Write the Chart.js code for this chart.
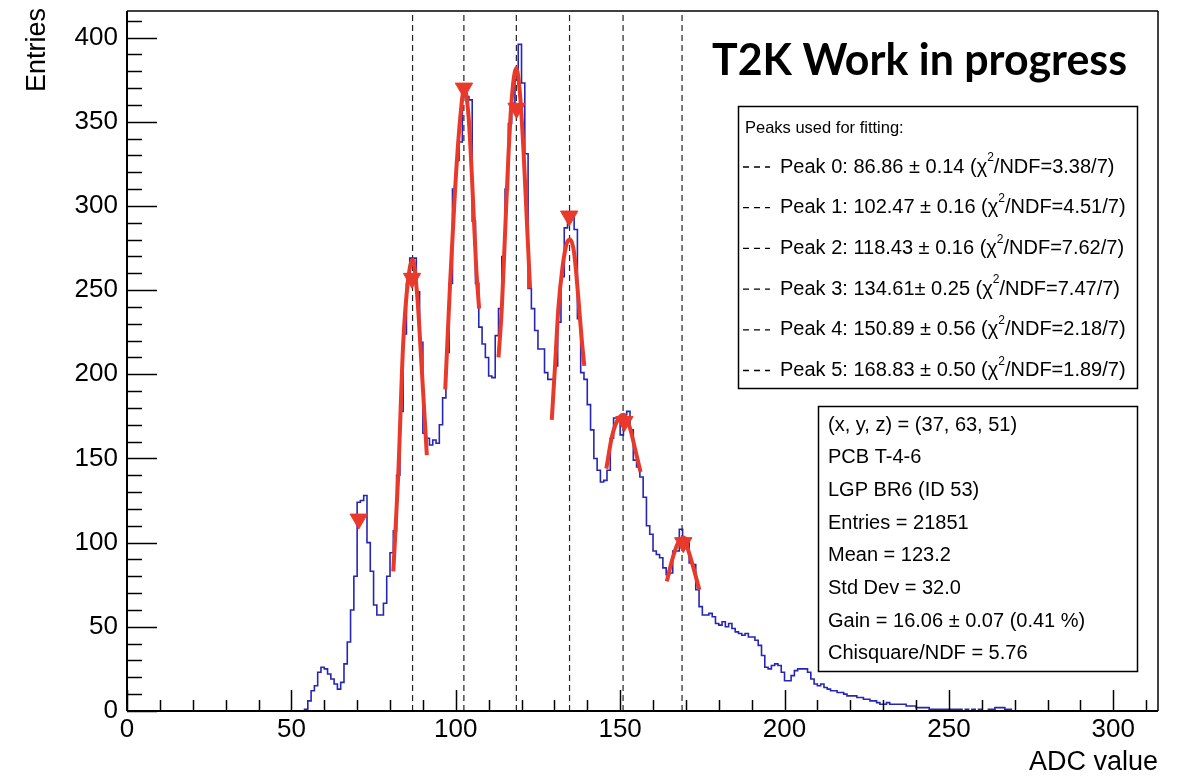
<!DOCTYPE html>
<html>
<head>
<meta charset="utf-8">
<script src="https://cdn.jsdelivr.net/npm/chart.js@4.4.1/dist/chart.umd.min.js"></script>
<style>
  body { margin: 0; background: #fff; }
  #wrap { width: 1178px; height: 776px; }
</style>
</head>
<body>
<div id="wrap"><canvas id="adcChart" width="1178" height="776"></canvas></div>
<script>
// Histogram: entries per 1-ADC bin, starting at firstBin
const firstBin = 53;
const counts = [
    0, 1, 6, 12, 15, 23, 26, 25, 22, 19, 16, 13, 17, 28, 41, 60, 80,          // 53-69
    124, 125, 128, 100, 83, 63, 57, 57, 64, 80,                               // 70-79
    94, 107, 140, 178, 224, 254, 269, 269, 249, 219,                          // 80-89
    165, 162, 158, 161, 159, 170, 186, 213, 254, 310,                         // 90-99
    327, 338, 368, 365, 363, 291, 254, 228, 218, 210,                         // 100-109
    199, 198, 223, 239, 270, 310, 349, 361, 375, 396,                         // 110-119
    373, 331, 251, 239, 226, 215, 215, 201, 197, 197,                         // 120-129
    205, 231, 258, 287, 294, 294, 286, 233, 201, 197,                         // 130-139
    182, 167, 150, 143, 136, 137, 143, 162, 174, 173,                         // 140-149
    164, 176, 178, 167, 149, 145, 139, 127, 110, 105,                         // 150-159
    95, 93, 91, 85, 81, 82, 95, 95, 108, 103,                                 // 160-169
    102, 88, 87, 72, 62, 57, 57, 58, 56, 52,                                  // 170-179
    51, 53, 50, 52, 49, 47, 46, 45, 46, 44,                                   // 180-189
    44, 42, 39, 33, 26, 25, 27, 28, 27, 23,                                   // 190-199
    18, 18, 21, 24, 25, 25, 25, 23, 19, 16,                                   // 200-209
    15, 16, 14, 13, 12, 12, 11, 11, 10, 9,                                    // 210-219
    9, 9, 8, 8, 7, 7, 6, 6, 5, 4,                                             // 220-229
    4, 5, 4, 4, 4, 4, 4, 3, 3, 3,                                             // 230-239
    2, 2, 2, 2, 1, 1, 1, 1, 1, 1,                                             // 240-249
    1, 1, 1, 1, 0, 1, 0, 1, 0, 1,                                             // 250-259
    0, 0, 1, 1, 2, 2, 2, 1, 1, 0                                              // 260-269
];

const xMax = 313.6;
const yMax = 415.8;

// Fitted peak positions (dashed lines)
const peakPos = [86.86, 102.47, 118.43, 134.61, 150.89, 168.83];

// Peak-finder markers
const markerX = [70.5, 86.7, 102.5, 118.5, 134.5, 151.3, 169.2];
const markerY = [114, 257, 370, 358, 294, 172, 100];

// Gaussian fit curves
const fit0X = [81, 82.5, 84, 85.5, 86.9, 88.3, 89.6, 91.2];
const fit0Y = [83, 140, 218, 256, 268, 246, 205, 152];
const fit1X = [96.8, 98.3, 99.8, 101.3, 102.6, 103.9, 104.9, 106.2, 107.1];
const fit1Y = [191, 255, 310, 351, 370, 353, 318, 264, 239];
const fit2X = [113, 114, 115, 116, 117, 118.4, 119.6, 120.6, 121.6, 122.6];
const fit2Y = [210, 239, 284, 329, 363, 382, 365, 333, 292, 251];
const fit3X = [129.2, 130.2, 131.2, 132.5, 133.8, 134.8, 136, 137.3, 138.3, 139.1];
const fit3Y = [173, 205, 239, 264, 278, 280, 272, 245, 221, 205];
const fit4X = [145.8, 147.4, 149, 151, 153, 154.5, 156.2];
const fit4Y = [144, 162, 172, 176, 168, 156, 142];
const fit5X = [164.2, 165.7, 167.4, 169.3, 170.8, 172.3, 174.1];
const fit5Y = [77, 89, 99, 103, 95, 85, 72];

// Legend texts
const peakLabels = [
    ['Peak 0: 86.86 \u00b1 0.14 (\u03c7', '/NDF=3.38/7)'],
    ['Peak 1: 102.47 \u00b1 0.16 (\u03c7', '/NDF=4.51/7)'],
    ['Peak 2: 118.43 \u00b1 0.16 (\u03c7', '/NDF=7.62/7)'],
    ['Peak 3: 134.61\u00b1 0.25 (\u03c7', '/NDF=7.47/7)'],
    ['Peak 4: 150.89 \u00b1 0.56 (\u03c7', '/NDF=2.18/7)'],
    ['Peak 5: 168.83 \u00b1 0.50 (\u03c7', '/NDF=1.89/7)']
];
const statLines = [
    '(x, y, z) = (37, 63, 51)',
    'PCB T-4-6',
    'LGP BR6 (ID 53)',
    'Entries = 21851',
    'Mean = 123.2',
    'Std Dev = 32.0',
    'Gain = 16.06 \u00b1 0.07 (0.41 %)',
    'Chisquare/NDF = 5.76'
];

const FONT = "'Liberation Sans', Arial, sans-serif";
const RED = '#e8392b';

// build histogram steps
const histPoints = [{ x: 0, y: 0 }];
counts.forEach((c, i) => histPoints.push({ x: firstBin + i, y: c }));
histPoints.push({ x: firstBin + counts.length, y: 0 });
histPoints.push({ x: xMax, y: 0 });

function pairs(xs, ys) {
    return xs.map((x, i) => ({ x: x, y: ys[i] }));
}

const datasets = [{
    data: histPoints,
    borderColor: '#2626b4',
    borderWidth: 1.6,
    pointRadius: 0,
    stepped: true,
    order: 5
}];

[[fit0X, fit0Y], [fit1X, fit1Y], [fit2X, fit2Y], [fit3X, fit3Y], [fit4X, fit4Y], [fit5X, fit5Y]].forEach(f => {
    datasets.push({
        data: pairs(f[0], f[1]),
        borderColor: RED,
        borderWidth: 4,
        pointRadius: 0,
        cubicInterpolationMode: 'monotone',
        order: 3
    });
});

peakPos.forEach(p => {
    datasets.push({
        data: [{ x: p, y: 0 }, { x: p, y: yMax }],
        borderColor: '#222',
        borderWidth: 1.2,
        borderDash: [6, 4],
        pointRadius: 0,
        order: 4
    });
});

datasets.push({
    data: pairs(markerX, markerY),
    showLine: false,
    pointStyle: 'triangle',
    rotation: 180,
    pointRadius: 10,
    pointBackgroundColor: RED,
    pointBorderColor: RED,
    pointBorderWidth: 1,
    order: 1
});

function line(ctx, x1, y1, x2, y2) {
    ctx.beginPath();
    ctx.moveTo(x1, y1);
    ctx.lineTo(x2, y2);
    ctx.stroke();
}

// ROOT style frame + inward ticks
const rootFrame = {
    id: 'rootFrame',
    afterDatasetsDraw(chart) {
        const { ctx, chartArea: a, scales: { x, y } } = chart;
        ctx.save();
        ctx.strokeStyle = '#000';
        ctx.lineWidth = 1.5;
        for (let v = 0; v <= xMax; v += 10) {
            const px = Math.round(x.getPixelForValue(v)) + 0.5;
            const len = v % 50 === 0 ? 21 : 11;
            line(ctx, px, a.bottom, px, a.bottom - len);
        }
        for (let v = 0; v <= yMax; v += 10) {
            const py = Math.round(y.getPixelForValue(v)) + 0.5;
            const len = v % 50 === 0 ? 30 : 15;
            line(ctx, a.left, py, a.left + len, py);
        }
        ctx.lineWidth = 2;
        line(ctx, a.left, a.bottom, a.right, a.bottom);
        line(ctx, a.left, a.top, a.left, a.bottom);
        ctx.lineWidth = 1.5;
        line(ctx, a.left, a.top, a.right, a.top);
        line(ctx, a.right, a.top, a.right, a.bottom);
        ctx.restore();
    },
    afterDraw(chart) {
        const ctx = chart.ctx;
        ctx.save();
        ctx.fillStyle = '#000';

        // axis titles
        ctx.font = '27px ' + FONT;
        ctx.textAlign = 'right';
        ctx.textBaseline = 'alphabetic';
        ctx.fillText('ADC value', 1158, 770);
        ctx.save();
        ctx.translate(45, 8);
        ctx.rotate(-Math.PI / 2);
        ctx.fillText('Entries', 0, 0);
        ctx.restore();

        // T2K label
        ctx.font = 'bold 44px Lato, ' + FONT;
        ctx.textAlign = 'left';
        const t2k = 'T2K Work in progress';
        const tw = ctx.measureText(t2k).width;
        ctx.save();
        ctx.translate(712, 75);
        ctx.scale(415 / tw, 1);
        ctx.fillText(t2k, 0, 0);
        ctx.restore();

        // peaks legend box
        ctx.fillStyle = '#fff';
        ctx.fillRect(738, 106, 399, 282);
        ctx.strokeStyle = '#000';
        ctx.lineWidth = 1.5;
        ctx.strokeRect(738.5, 106.5, 399, 282);
        ctx.fillStyle = '#000';
        ctx.font = '16.5px ' + FONT;
        ctx.textBaseline = 'middle';
        ctx.fillText('Peaks used for fitting:', 745, 128);
        peakLabels.forEach((lab, i) => {
            const yy = 167 + i * 40.7;
            ctx.save();
            ctx.lineWidth = 1.3;
            ctx.setLineDash([6, 5]);
            line(ctx, 743, yy, 770, yy);
            ctx.restore();
            ctx.font = '20px ' + FONT;
            ctx.fillText(lab[0], 780, yy);
            let w = ctx.measureText(lab[0]).width;
            ctx.font = '12px ' + FONT;
            ctx.fillText('2', 780 + w, yy - 9);
            w += ctx.measureText('2').width;
            ctx.font = '20px ' + FONT;
            ctx.fillText(lab[1], 780 + w, yy);
        });

        // stats box
        ctx.fillStyle = '#fff';
        ctx.fillRect(818, 406, 319, 265);
        ctx.strokeRect(818.5, 406.5, 319, 265);
        ctx.fillStyle = '#000';
        ctx.font = '20px ' + FONT;
        statLines.forEach((s, i) => {
            ctx.fillText(s, 828, 425 + i * 32.7);
        });
        ctx.restore();
    }
};

new Chart(document.getElementById('adcChart'), {
    type: 'line',
    data: { datasets: datasets },
    options: {
        responsive: false,
        animation: false,
        layout: { padding: { top: 7, right: 20, left: 0, bottom: 0 } },
        plugins: { legend: { display: false }, tooltip: { enabled: false } },
        scales: {
            x: {
                type: 'linear',
                min: 0,
                max: xMax,
                grid: { display: false, drawTicks: false },
                border: { display: false },
                afterFit: s => { s.height = 65; s.paddingLeft = 0; s.paddingRight = 0; },
                ticks: {
                    stepSize: 50,
                    includeBounds: false,
                    autoSkip: false,
                    maxRotation: 0,
                    padding: 3,
                    color: '#000',
                    font: { family: FONT, size: 26 },
                    callback: v => (v % 50 === 0 ? v : '')
                }
            },
            y: {
                type: 'linear',
                min: 0,
                max: yMax,
                grid: { display: false, drawTicks: false },
                border: { display: false },
                afterFit: s => { s.width = 127; s.paddingTop = 0; s.paddingBottom = 0; },
                ticks: {
                    stepSize: 50,
                    includeBounds: false,
                    autoSkip: false,
                    padding: 9,
                    color: '#000',
                    font: { family: FONT, size: 26 },
                    callback: v => (v % 50 === 0 ? v : '')
                }
            }
        }
    },
    plugins: [rootFrame]
});
</script>
</body>
</html>
